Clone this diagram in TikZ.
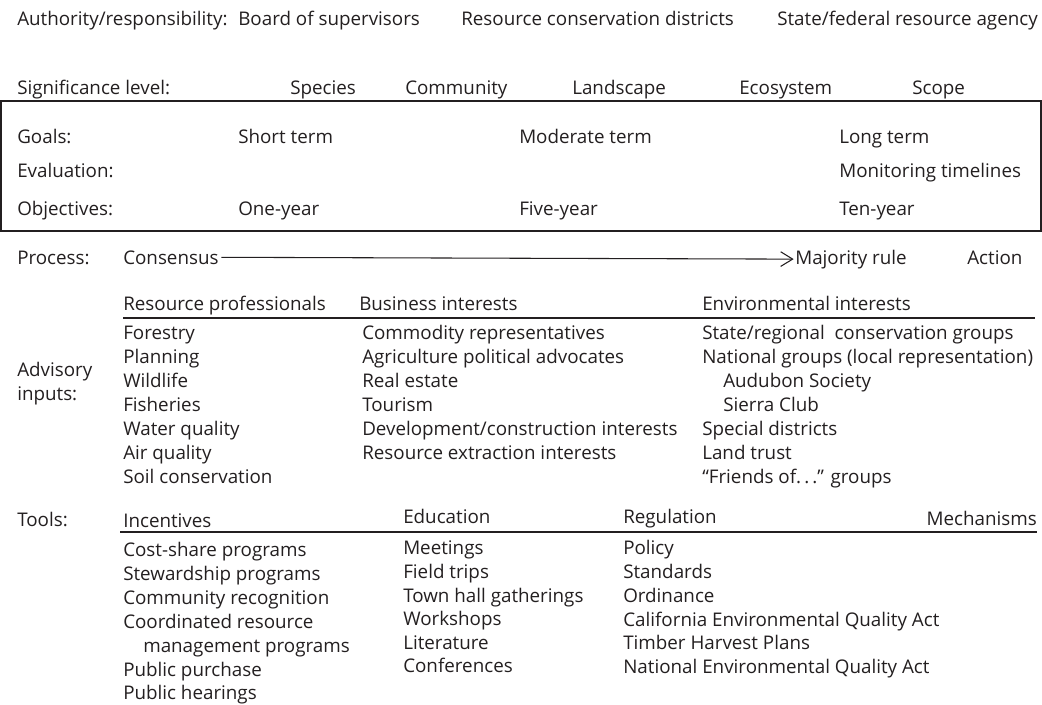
\documentclass[tikz,border=0pt]{standalone}
\usepackage{fontspec}
\setmainfont{Open Sans}
\usepackage{xcolor}
\usepackage{tikz}
\usetikzlibrary{arrows.meta}

\definecolor{inkgray}{HTML}{231F20}

\begin{document}
\begin{tikzpicture}[
        x=0.75pt, y=-0.75pt,
        label/.style={anchor=base west, inner sep=0pt, text=inkgray, font=\fontsize{14.1}{16}\selectfont},
        item/.style={label},
        rule/.style={draw=inkgray, line width=0.8pt},
        process/.style={-{Straight Barb[length=9pt, width=11pt]}, draw=inkgray, line width=0.8pt, shorten <=2pt, shorten >=1pt}
    ]
        \useasboundingbox (0,0) rectangle (1042,704);

        % ========== AUTHORITY / SIGNIFICANCE ==========
        \node[label] (authority) at (17,25) {Authority/responsibility:};
        \node[label] (board) at (238,25) {Board of supervisors};
        \node[label] (rcd) at (461,25) {Resource conservation districts};
        \node[label] (agency) at (777,25) {State/federal resource agency};

        \node[label] (significance) at (17,94) {Significance level:};
        \node[label] (species) at (290,94) {Species};
        \node[label] (community) at (405,94) {Community};
        \node[label] (landscape) at (572,94) {Landscape};
        \node[label] (ecosystem) at (739,94) {Ecosystem};
        \node[label] (scope) at (912,94) {Scope};

        % ========== GOALS BOX ==========
        \draw[rule] (1,101) rectangle (1041,231);
        \node[label] (goals) at (17,143) {Goals:};
        \node[label] (shortterm) at (238,143) {Short term};
        \node[label] (modterm) at (519,143) {Moderate term};
        \node[label] (longterm) at (839,143) {Long term};
        \node[label] (evaluation) at (17,177) {Evaluation:};
        \node[label] (monitoring) at (839,177) {Monitoring timelines};
        \node[label] (objectives) at (17,215) {Objectives:};
        \node[label] (oneyear) at (238,215) {One-year};
        \node[label] (fiveyear) at (519,215) {Five-year};
        \node[label] (tenyear) at (839,215) {Ten-year};

        % ========== PROCESS ==========
        \node[label] (process) at (17,264) {Process:};
        \node[label] (consensus) at (123,264) {Consensus};
        \node[label] (majority) at (795,264) {Majority rule};
        \node[label] (action) at (967,264) {Action};
        \draw[process] (consensus.east) -- (majority.west);

        % ========== ADVISORY INPUTS ==========
        \node[label] (advisory) at (17,376) {Advisory};
        \node[label] (inputs) at (17,400) {inputs:};
        \node[label] (resprof) at (123,310) {Resource professionals};
        \node[label] (business) at (359,310) {Business interests};
        \node[label] (environ) at (702,310) {Environmental interests};
        \coordinate (advleft) at (123,318);
        \coordinate (advright) at (1035,318);
        \draw[rule] (advleft) -- (advright);

        % resource professionals
        \node[item] (forestry) at (123,339) {Forestry};
        \node[item] (planning) at (123,363) {Planning};
        \node[item] (wildlife) at (123,387) {Wildlife};
        \node[item] (fisheries) at (123,411) {Fisheries};
        \node[item] (water) at (123,435) {Water quality};
        \node[item] (air) at (123,459) {Air quality};
        \node[item] (soil) at (123,483) {Soil conservation};

        % business interests
        \node[item] (commodity) at (362,339) {Commodity representatives};
        \node[item] (agriculture) at (362,363) {Agriculture political advocates};
        \node[item] (realestate) at (362,387) {Real estate};
        \node[item] (tourism) at (362,411) {Tourism};
        \node[item] (development) at (362,435) {Development/construction interests};
        \node[item] (extraction) at (362,459) {Resource extraction interests};

        % environmental interests
        \node[item] (stategroups) at (702,339) {State/regional\ \ conservation groups};
        \node[item] (national) at (702,363) {National groups (local representation)};
        \node[item] (audubon) at (723,387) {Audubon Society};
        \node[item] (sierra) at (723,411) {Sierra Club};
        \node[item] (special) at (702,435) {Special districts};
        \node[item] (landtrust) at (702,459) {Land trust};
        \node[item] (friends) at (702,483) {``Friends of.\,.\,.'' groups};

        % ========== TOOLS ==========
        \node[label] (tools) at (17,526) {Tools:};
        \node[label] (incentives) at (123,527) {Incentives};
        \node[label] (education) at (403,523) {Education};
        \node[label] (regulation) at (623,523) {Regulation};
        \node[label, anchor=base east] (mechanisms) at (1037,525) {Mechanisms};
        \coordinate (toolleft) at (120,532);
        \coordinate (toolright) at (1037,532);
        \draw[rule] (toolleft) -- (toolright);

        % incentives
        \node[item] (costshare) at (123,556) {Cost-share programs};
        \node[item] (stewardship) at (123,580) {Stewardship programs};
        \node[item] (recognition) at (123,604) {Community recognition};
        \node[item] (coordinated) at (123,628) {Coordinated resource};
        \node[item] (management) at (143,652) {management programs};
        \node[item] (purchase) at (123,676) {Public purchase};
        \node[item] (hearings) at (123,699) {Public hearings};

        % education
        \node[item] (meetings) at (403,554) {Meetings};
        \node[item] (fieldtrips) at (403,578) {Field trips};
        \node[item] (townhall) at (403,602) {Town hall gatherings};
        \node[item] (workshops) at (403,625) {Workshops};
        \node[item] (literature) at (403,649) {Literature};
        \node[item] (conferences) at (403,672) {Conferences};

        % regulation
        \node[item] (policy) at (623,554) {Policy};
        \node[item] (standards) at (623,578) {Standards};
        \node[item] (ordinance) at (623,602) {Ordinance};
        \node[item] (ceqa) at (623,626) {California Environmental Quality Act};
        \node[item] (timber) at (623,649) {Timber Harvest Plans};
        \node[item] (neqa) at (623,673) {National Environmental Quality Act};

    \end{tikzpicture}
\end{document}
